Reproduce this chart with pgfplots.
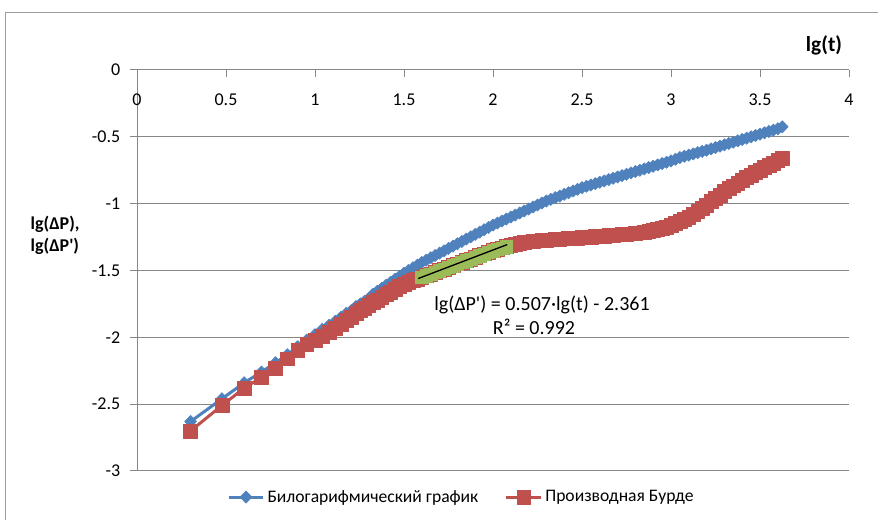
\documentclass[border=0pt]{standalone}
\usepackage{pgfplots}
\pgfplotsset{compat=1.18}
\usepackage{pgfplotstable}
\usepackage{fontspec}
\setmainfont{Carlito}[Ligatures=TeXOff]
\definecolor{xlblue}{HTML}{4F81BD}
\definecolor{xlred}{HTML}{C0504D}
\definecolor{xlgreen}{HTML}{9BBB59}
\definecolor{xlgray}{HTML}{868686}
\newcommand\cf{\fontsize{13.5}{16.5}\selectfont}

\pgfplotstableread{
x y
0.301 -2.63
0.477 -2.46
0.602 -2.34
0.699 -2.26
0.778 -2.19
0.845 -2.13
0.903 -2.07
0.954 -2.02
1.000 -1.98
1.041 -1.94
1.079 -1.91
1.114 -1.88
1.146 -1.85
1.176 -1.82
1.204 -1.80
1.230 -1.77
1.255 -1.75
1.279 -1.73
1.301 -1.71
1.325 -1.678
1.350 -1.655
1.375 -1.633
1.400 -1.610
1.425 -1.588
1.450 -1.565
1.475 -1.543
1.500 -1.520
1.525 -1.500
1.550 -1.480
1.575 -1.460
1.600 -1.440
1.625 -1.423
1.650 -1.405
1.675 -1.388
1.700 -1.370
1.725 -1.353
1.750 -1.335
1.775 -1.318
1.800 -1.300
1.825 -1.283
1.850 -1.265
1.875 -1.248
1.900 -1.230
1.925 -1.213
1.950 -1.195
1.975 -1.178
2.000 -1.160
2.025 -1.145
2.050 -1.130
2.075 -1.115
2.100 -1.100
2.125 -1.085
2.150 -1.070
2.175 -1.055
2.200 -1.040
2.225 -1.025
2.250 -1.010
2.275 -0.995
2.300 -0.980
2.325 -0.968
2.350 -0.955
2.375 -0.943
2.400 -0.930
2.425 -0.918
2.450 -0.905
2.475 -0.893
2.500 -0.880
2.525 -0.870
2.550 -0.860
2.575 -0.850
2.600 -0.840
2.625 -0.830
2.650 -0.820
2.675 -0.810
2.700 -0.800
2.725 -0.790
2.750 -0.780
2.775 -0.770
2.800 -0.760
2.825 -0.750
2.850 -0.740
2.875 -0.730
2.900 -0.720
2.925 -0.710
2.950 -0.700
2.975 -0.690
3.000 -0.680
3.025 -0.668
3.050 -0.655
3.075 -0.645
3.100 -0.637
3.125 -0.628
3.150 -0.618
3.175 -0.609
3.200 -0.600
3.225 -0.590
3.250 -0.580
3.275 -0.570
3.300 -0.560
3.325 -0.550
3.350 -0.540
3.375 -0.530
3.400 -0.520
3.425 -0.510
3.450 -0.500
3.475 -0.490
3.500 -0.480
3.525 -0.470
3.550 -0.460
3.575 -0.450
3.600 -0.440
3.625 -0.425
}\blueTab

\pgfplotstableread{
x y
0.301 -2.70
0.477 -2.51
0.602 -2.38
0.699 -2.30
0.778 -2.23
0.845 -2.16
0.903 -2.10
0.954 -2.05
1.000 -2.02
1.041 -1.99
1.079 -1.96
1.114 -1.93
1.146 -1.90
1.176 -1.87
1.204 -1.85
1.230 -1.82
1.255 -1.80
1.279 -1.78
1.301 -1.76
1.325 -1.740
1.350 -1.720
1.375 -1.700
1.400 -1.680
1.425 -1.660
1.450 -1.640
1.475 -1.620
1.500 -1.600
1.525 -1.588
1.550 -1.575
1.575 -1.563
1.600 -1.550
1.625 -1.538
1.650 -1.525
1.675 -1.513
1.700 -1.500
1.725 -1.488
1.750 -1.475
1.775 -1.463
1.800 -1.450
1.825 -1.438
1.850 -1.425
1.875 -1.413
1.900 -1.400
1.925 -1.388
1.950 -1.375
1.975 -1.363
2.000 -1.350
2.025 -1.340
2.050 -1.330
2.075 -1.320
2.100 -1.310
2.125 -1.303
2.150 -1.297
2.175 -1.291
2.200 -1.285
2.225 -1.282
2.250 -1.278
2.275 -1.275
2.300 -1.272
2.325 -1.270
2.350 -1.268
2.375 -1.265
2.400 -1.263
2.425 -1.261
2.450 -1.259
2.475 -1.256
2.500 -1.254
2.525 -1.252
2.550 -1.250
2.575 -1.247
2.600 -1.245
2.625 -1.242
2.650 -1.239
2.675 -1.236
2.700 -1.233
2.725 -1.230
2.750 -1.228
2.775 -1.225
2.800 -1.222
2.825 -1.218
2.850 -1.213
2.875 -1.208
2.900 -1.202
2.925 -1.194
2.950 -1.185
2.975 -1.174
3.000 -1.162
3.025 -1.148
3.050 -1.133
3.075 -1.117
3.100 -1.100
3.125 -1.080
3.150 -1.058
3.175 -1.035
3.200 -1.010
3.225 -0.985
3.250 -0.960
3.275 -0.935
3.300 -0.910
3.325 -0.888
3.350 -0.866
3.375 -0.845
3.400 -0.825
3.425 -0.805
3.450 -0.785
3.475 -0.766
3.500 -0.748
3.525 -0.730
3.550 -0.712
3.575 -0.695
3.600 -0.678
3.625 -0.660
}\redTab

\pgfplotstableread{
x y
1.600 -1.552
1.625 -1.540
1.650 -1.527
1.675 -1.515
1.700 -1.502
1.725 -1.490
1.750 -1.477
1.775 -1.465
1.800 -1.452
1.825 -1.440
1.850 -1.427
1.875 -1.415
1.900 -1.402
1.925 -1.390
1.950 -1.377
1.975 -1.365
2.000 -1.352
2.025 -1.342
2.050 -1.332
2.075 -1.322
}\greenTab

\begin{document}
\begin{tikzpicture}
\begin{scope}[x=0.75pt,y=0.75pt]
\path[use as bounding box] (0,0) rectangle (878,520);
\draw[xlgray!80, line width=0.75pt] (5,0) -- (5,507) -- (878,507);
\end{scope}
\begin{axis}[
  at={(102.75pt,36.75pt)}, anchor=south west,
  scale only axis, width=534pt, height=300.75pt,
  xmin=0, xmax=4, ymin=-3, ymax=0,
  axis x line*=top, axis y line*=left,
  xtick={0,0.5,...,4}, ytick={-3,-2.5,...,0},
  ymajorgrids,
  major grid style={xlgray, line width=0.75pt},
  axis line style={xlgray, line width=0.75pt},
  tick style={xlgray, line width=0.75pt},
  tick align=inside, major tick length=5pt,
  y tick style={xshift=-5pt},
  tick label style={font=\cf},
  /pgf/number format/assume math mode=true,
  /pgf/number format/fixed,
  xticklabel style={anchor=center, yshift=-22.5pt},
  yticklabel style={anchor=east, xshift=-9pt},
  legend style={at={(0.456,-0.065)}, anchor=center, draw=none, fill=none,
    legend columns=2, font=\fontsize{13.2}{15.5}\selectfont,
    /tikz/every even column/.append style={column sep=18pt}},
  legend cell align=left,
  legend image code/.code={\draw[mark repeat=2,mark phase=2] plot coordinates {(0pt,0pt) (13pt,0pt) (26pt,0pt)};},
  clip=false,
  clip mode=individual,
]
\addplot[xlblue, line width=2.25pt, line join=round, mark=diamond*, mark size=4.6pt,
  mark options={solid, fill=xlblue, draw=xlblue, line width=0.4pt, xscale=1.3}] table {\blueTab};
\addlegendentry{Билогарифмический график}
\addplot[xlred, line width=2.25pt, line join=round, mark=square*, mark size=5.2pt,
  mark options={solid, fill=xlred, draw=xlred, line width=0.4pt}] table {\redTab};
\addlegendentry{Производная Бурде}
\addplot[only marks, mark=square*, mark size=4.6pt,
  mark options={fill=xlgreen, draw=xlgreen, line width=0.4pt}, forget plot] table {\greenTab};
\addplot[black, line width=1pt, forget plot] coordinates {(1.58,-1.560) (2.08,-1.306)};
\end{axis}
\begin{scope}[x=0.75pt,y=0.75pt]
\node[font=\fontsize{16}{19}\selectfont\bfseries] at (824,475) {lg(t)};
\node[font=\fontsize{13.5}{16.5}\selectfont\bfseries, anchor=west, align=left] at (26,285) {lg(ΔP),\\lg(ΔP')};
\node[font=\fontsize{15}{18}\selectfont] at (542,215) {lg(ΔP') = 0.507·lg(t) - 2.361};
\node[font=\fontsize{15}{18}\selectfont] at (534,193) {R² = 0.992};
\end{scope}
\end{tikzpicture}
\end{document}
